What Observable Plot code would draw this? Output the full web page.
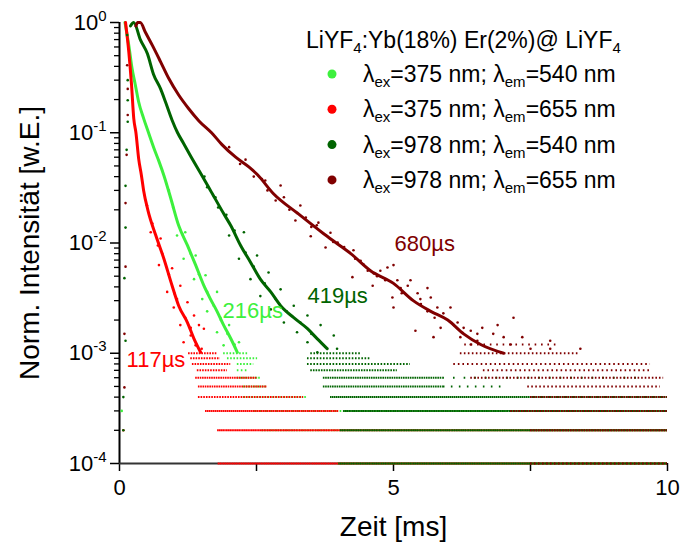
<!DOCTYPE html>
<html><head><meta charset="utf-8">
<script src="https://cdn.jsdelivr.net/npm/d3@7"></script>
<script src="https://cdn.jsdelivr.net/npm/@observablehq/plot@0.6"></script>
<style>
body{margin:0;background:#fff;}
svg{font-family:"Liberation Sans",Arial,sans-serif;}
</style>
</head><body><div id="chart"></div>
<script>
// ---------- data ----------
const legendTitle = ["LiYF", "4", ":Yb(18%) Er(2%)@ LiYF", "4"];
const exWavelengths = [375, 375, 978, 978];
const emWavelengths = [540, 655, 540, 655];
const lifetimesUs = [216, 117, 419, 680];
const xTicksMajor = [0, 5, 10];
const xTicksMinor = [2.5, 7.5];
const yTickExponents = [0, -1, -2, -3, -4];
const xTitle = "Zeit [ms]";
const yTitle = "Norm. Intensität [w.E.]";

// main decay trends: time [ms], normalised intensity
const tLightGreen = [0.10, 0.17, 0.23, 0.29, 0.35, 0.44, 0.53, 0.63, 0.72, 0.81, 0.93, 1.08, 1.24, 1.39, 1.54, 1.66, 1.78, 1.90, 2.03, 2.15];
const vLightGreen = [1.0, 0.62, 0.38, 0.27, 0.19, 0.135, 0.10, 0.072, 0.055, 0.041, 0.026, 0.0144, 0.0095, 0.0063, 0.0041, 0.0031, 0.0024, 0.0018, 0.00136, 0.00102];
const tRed = [0.11, 0.17, 0.22, 0.26, 0.30, 0.35, 0.40, 0.44, 0.52, 0.66, 0.81, 0.96, 1.08, 1.24, 1.36, 1.48];
const vRed = [1.0, 0.54, 0.27, 0.135, 0.10, 0.058, 0.041, 0.030, 0.0197, 0.0118, 0.0072, 0.0041, 0.0027, 0.0019, 0.00135, 0.00102];
const tDarkGreen = [0.20, 0.26, 0.38, 0.51, 0.62, 0.75, 0.84, 0.96, 1.06, 1.17, 1.31, 1.48, 1.66, 1.90, 2.03, 2.21, 2.39, 2.57, 2.76, 2.94, 3.18, 3.43, 3.61, 3.79];
const vDarkGreen = [0.93, 1.0, 0.70, 0.52, 0.34, 0.25, 0.19, 0.13, 0.10, 0.080, 0.060, 0.043, 0.030, 0.0185, 0.0144, 0.0095, 0.0067, 0.0047, 0.0036, 0.0027, 0.0021, 0.00167, 0.00135, 0.0011];
const tDarkRed = [0.30, 0.33, 0.38, 0.47, 0.60, 0.75, 0.90, 1.08, 1.26, 1.45, 1.68, 1.87, 2.12, 2.36, 2.51, 2.81, 3.25, 3.72, 3.98, 4.22, 4.58, 5.00, 5.36, 5.68, 5.99, 6.28, 6.59, 7.01];
const vDarkRed = [0.93, 1.0, 1.0, 0.82, 0.62, 0.44, 0.31, 0.22, 0.166, 0.128, 0.10, 0.078, 0.060, 0.049, 0.042, 0.028, 0.0186, 0.0122, 0.0098, 0.0080, 0.0056, 0.0043, 0.0030, 0.0024, 0.0020, 0.0015, 0.0012, 0.0010];

// scattered points off the trend
const sLightGreenT = [1.05, 1.20, 1.17, 1.39, 1.36, 1.57, 1.51, 1.78, 1.60, 1.84, 1.78, 2.00, 1.90, 2.18, 0.04,
  0.90, 0.98, 1.15, 1.30, 1.45, 1.60, 1.72, 1.85, 1.97, 2.10];
const sLightGreenV = [0.0117, 0.0125, 0.0072, 0.0077, 0.0047, 0.0051, 0.0031, 0.0036, 0.0024, 0.0021, 0.00155, 0.0018, 0.00118, 0.00126, 0.0003,
  0.030, 0.021, 0.012, 0.0080, 0.0052, 0.0036, 0.0027, 0.0020, 0.0015, 0.0012];
const sRedT = [0.57, 0.75, 0.72, 0.96, 0.87, 1.11, 0.99, 1.24, 1.11, 1.36, 1.17, 1.45, 1.30, 1.54, 1.39, 0.07,
  0.50, 0.60, 0.70, 0.78, 0.90, 1.00, 1.05, 1.20, 1.30, 1.40, 1.50];
const sRedV = [0.0125, 0.0110, 0.0063, 0.0059, 0.0036, 0.0041, 0.0026, 0.0029, 0.0018, 0.0022, 0.00126, 0.0018, 0.00145, 0.00167, 0.00118, 0.0002,
  0.022, 0.015, 0.0095, 0.0080, 0.0052, 0.0035, 0.0031, 0.0021, 0.0017, 0.0012, 0.0011];
const sDarkGreenT = [2.00, 2.27, 2.18, 2.51, 2.39, 2.72, 2.57, 2.94, 2.76, 3.18, 3.00, 3.43, 3.24, 3.67, 3.43, 3.91, 3.61, 3.97,
  0.14, 0.15, 0.15, 0.15, 0.13, 0.11, 0.11, 0.09, 0.11, 0.07, 0.07,
  1.55, 1.60, 1.75, 1.80, 1.95, 2.10, 2.30, 2.45, 2.65, 2.85, 3.05, 3.30, 3.50];
const sDarkGreenV = [0.0117, 0.0125, 0.0072, 0.0077, 0.0047, 0.0054, 0.0033, 0.0038, 0.0025, 0.0027, 0.0019, 0.0022, 0.00155, 0.0018, 0.00126, 0.00145, 0.00102, 0.0011,
  0.77, 0.30, 0.197, 0.126, 0.070, 0.033, 0.0138, 0.0048, 0.0013, 0.0004, 0.0002,
  0.040, 0.032, 0.026, 0.021, 0.018, 0.0130, 0.0082, 0.0061, 0.0043, 0.0031, 0.0024, 0.0019, 0.0015];
const sDarkRedT = [2.66, 2.94, 2.85, 3.30, 3.21, 3.63, 3.49, 3.85, 3.76,
  3.98, 4.09, 4.27, 4.40, 4.25, 4.53, 4.64, 4.76, 4.89, 5.00, 4.62, 4.85, 5.07, 5.13, 5.26, 4.98, 5.00, 5.31, 5.44, 5.49, 5.62, 5.68, 5.62, 5.40,
  5.80, 5.91, 6.04, 5.86, 6.17, 6.28, 6.41, 6.53, 6.90, 7.19, 5.73, 6.22, 6.41, 6.53, 6.62, 6.82, 7.01, 7.14, 7.35, 7.50, 7.86, 7.86, 8.41,
  0.14, 0.15, 0.15, 0.13, 0.11, 0.11, 0.09, 0.09,
  2.00, 2.20, 2.30, 2.45, 2.60, 2.70, 3.00, 3.10, 3.40, 3.50, 3.60, 3.90, 4.10, 4.30, 4.45, 4.70, 5.15, 5.50, 5.75, 6.10];
const sDarkRedV = [0.0369, 0.0332, 0.0243, 0.0219, 0.0160, 0.0153, 0.0115, 0.0124, 0.0091,
  0.0101, 0.0091, 0.0086, 0.0069, 0.0049, 0.0056, 0.0053, 0.0056, 0.0060, 0.0063, 0.0041, 0.0046, 0.0046, 0.0039, 0.0041, 0.0032, 0.0026, 0.0046, 0.0035, 0.0031, 0.0039, 0.0032, 0.0024, 0.0016,
  0.0026, 0.0023, 0.0026, 0.0017, 0.0019, 0.0017, 0.0016, 0.0015, 0.0018, 0.0021, 0.0014, 0.0014, 0.0012, 0.0013, 0.0017, 0.0015, 0.0014, 0.0012, 0.0014, 0.0011, 0.0013, 0.0011, 0.0011,
  0.41, 0.25, 0.145, 0.063, 0.023, 0.0061, 0.0015, 0.00049,
  0.074, 0.052, 0.057, 0.040, 0.038, 0.030, 0.026, 0.020, 0.017, 0.0140, 0.0145, 0.0102, 0.0092, 0.0072, 0.0064, 0.0050, 0.0035, 0.0028, 0.0021, 0.0018];

// quantised noise floor: [level, from t, to t, fraction of channels filled]
const bandsLightGreen = [[1e-3, 1.90, 2.34, 0.5], [9e-4, 1.97, 2.52, 0.5], [8e-4, 2.15, 2.45, 0.5], [7e-4, 2.15, 2.34, 0.4], [6e-4, 2.15, 2.57, 0.6], [5e-4, 2.26, 2.70, 0.6], [4e-4, 2.26, 3.43, 0.6], [3e-4, 2.45, 10, 0.5], [2e-4, 2.60, 10, 0.6], [1e-4, 3.98, 10, 0.5]];
const bandsRed = [[1e-3, 1.26, 1.79, 0.6], [9e-4, 1.30, 1.84, 0.6], [8e-4, 1.33, 2.03, 0.6], [7e-4, 1.42, 1.97, 0.6], [6e-4, 1.39, 2.52, 0.7], [5e-4, 1.44, 2.70, 0.7], [4e-4, 1.44, 3.36, 0.6], [3e-4, 1.57, 4.0, 0.8], [2e-4, 1.79, 10, 0.9], [1e-4, 1.80, 10, 0.9]];
const bandsDarkGreen = [[1e-3, 3.49, 4.40, 0.5], [9e-4, 3.43, 4.58, 0.5], [8e-4, 3.43, 5.31, 0.5], [7e-4, 3.49, 5.07, 0.6], [6e-4, 3.72, 5.90, 0.7], [6e-4, 5.90, 9.50, 0.15], [5e-4, 3.72, 5.91, 0.7], [5e-4, 5.91, 7.0, 0.2], [4e-4, 3.85, 10, 0.8], [3e-4, 4.09, 10, 0.9], [2e-4, 4.03, 10, 0.9], [1e-4, 4.0, 10, 0.9]];
const bandsDarkRed = [[1.2e-3, 6.3, 8.0, 0.25], [1e-3, 6.22, 8.41, 0.4], [8e-4, 6.10, 9.69, 0.35], [7e-4, 6.64, 9.69, 0.35], [6e-4, 6.41, 9.93, 0.45], [5e-4, 7.45, 9.87, 0.4], [4e-4, 7.50, 10, 0.6], [3e-4, 7.14, 10, 0.6], [2e-4, 7.50, 10, 0.6], [1e-4, 7.5, 10, 0.4]];

// ---------- styles ----------
const colors = ["#3df03d", "#ff0000", "#006400", "#800000"];
const font = "Liberation Sans, Arial, sans-serif";

const series = [
  {t: tLightGreen, v: vLightGreen, st: sLightGreenT, sv: sLightGreenV, bands: bandsLightGreen},
  {t: tRed, v: vRed, st: sRedT, sv: sRedV, bands: bandsRed},
  {t: tDarkGreen, v: vDarkGreen, st: sDarkGreenT, sv: sDarkGreenV, bands: bandsDarkGreen},
  {t: tDarkRed, v: vDarkRed, st: sDarkRedT, sv: sDarkRedV, bands: bandsDarkRed}
];

const dash = (f) => f >= 1 ? null : `1.6,${(1.6 * (1 / f - 1)).toFixed(2)}`;

const dataMarks = series.flatMap((s, i) => {
  const trend = s.t.map((t, k) => ({t, v: s.v[k]}));
  const scatter = s.st.map((t, k) => ({t, v: s.sv[k]}));
  const bandMarks = s.bands.map(([lv, t1, t2, f]) =>
    Plot.ruleY([{lv, t1, t2}], {y: "lv", x1: "t1", x2: "t2", stroke: colors[i], strokeWidth: 2, strokeDasharray: dash(f)}));
  return [
    ...bandMarks,
    Plot.line(trend, {x: "t", y: "v", stroke: colors[i], strokeWidth: 3, curve: "monotone-x"}),
    Plot.dot(scatter, {x: "t", y: "v", fill: colors[i], r: 1.3})
  ];
});

// annotation positions (data coordinates)
const annoT = [1.88, 0.13, 3.43, 5.02];
const annoV = [2.07e-3, 7.43e-4, 2.83e-3, 8.55e-3];
const annotations = lifetimesUs.map((us, i) => ({t: annoT[i], v: annoV[i], label: `${us}µs`, c: colors[i]}));

const yMinor = [];
for (let e = -4; e < 0; e++) for (let m = 2; m <= 9; m++) yMinor.push(m * Math.pow(10, e));

const chart = Plot.plot({
  width: 682, height: 542,
  marginLeft: 119, marginRight: 15, marginTop: 22, marginBottom: 79,
  style: {fontFamily: font, background: "#fff", color: "#000", overflow: "visible"},
  x: {domain: [0, 10], axis: null},
  y: {type: "log", domain: [1e-4, 1], axis: null},
  marks: [
    Plot.axisY(yMinor, {tickSize: 5, tickFormat: () => "", label: null, strokeWidth: 1.3}),
    Plot.axisY(yTickExponents.map(e => Math.pow(10, e)), {tickSize: 9, tickPadding: 4, fontSize: 22, label: null, strokeWidth: 1.5,
      tickFormat: (d) => `10^${Math.round(Math.log10(d))}`}),
    Plot.axisX(xTicksMajor, {tickSize: 8, tickPadding: 8, fontSize: 22, label: null, strokeWidth: 1.5, tickFormat: d => String(d)}),
    Plot.axisX(xTicksMinor, {tickSize: 8, tickFormat: () => "", label: null, strokeWidth: 1.5}),
    Plot.ruleX([0], {stroke: "#000", strokeWidth: 2}),
    Plot.ruleY([1e-4], {stroke: "#333", strokeWidth: 2}),
    ...dataMarks,
    Plot.text(annotations, {x: "t", y: "v", text: "label", fill: "c", fontSize: 22, textAnchor: "start", lineAnchor: "bottom"}),
    Plot.text([xTitle], {frameAnchor: "bottom", dy: 72, textAnchor: "middle", lineAnchor: "bottom", fontSize: 28, fill: "#000"}),
    Plot.text([yTitle], {frameAnchor: "left", dx: -89, rotate: -90, textAnchor: "middle", lineAnchor: "middle", fontSize: 28, fill: "#000"})
  ]
});

document.getElementById("chart").appendChild(chart);
const svg = d3.select(chart);

// superscript exponents on y tick labels
svg.selectAll("text").each(function() {
  const el = d3.select(this);
  const s = el.text();
  const m = /^10\^(-?\d+)$/.exec(s);
  if (!m) return;
  el.text(null);
  el.append("tspan").text("10");
  el.append("tspan").attr("dy", -9).attr("font-size", 15).text(m[1]);
});

// legend
const lg = svg.append("g").attr("font-family", font).attr("fill", "#000").attr("text-anchor", "start");
const title = lg.append("text").attr("x", 306).attr("y", 48).attr("font-size", 23);
title.append("tspan").text(legendTitle[0]);
title.append("tspan").attr("dy", 5).attr("font-size", 15).text(legendTitle[1]);
title.append("tspan").attr("dy", -5).text(legendTitle[2]);
title.append("tspan").attr("dy", 5).attr("font-size", 15).text(legendTitle[3]);
exWavelengths.forEach((ex, i) => {
  const y = 74 + i * 35.3;
  lg.append("circle").attr("cx", 332).attr("cy", y).attr("r", 4.5).attr("fill", colors[i]);
  const t = lg.append("text").attr("x", 363).attr("y", y + 8).attr("font-size", 23);
  t.append("tspan").text("λ");
  t.append("tspan").attr("dy", 5).attr("font-size", 15).text("ex");
  t.append("tspan").attr("dy", -5).text(`=${ex} nm; λ`);
  t.append("tspan").attr("dy", 5).attr("font-size", 15).text("em");
  t.append("tspan").attr("dy", -5).text(`=${emWavelengths[i]} nm`);
});
</script>
</body></html>
